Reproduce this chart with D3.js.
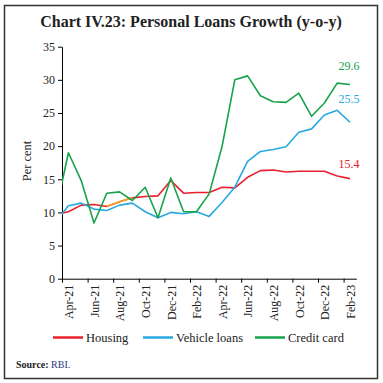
<!DOCTYPE html>
<html><head><meta charset="utf-8">
<script src="https://cdn.jsdelivr.net/npm/d3@7"></script>
<style>body{margin:0;background:#fff}svg{display:block}text{font-family:"Liberation Serif",serif}</style>
</head><body>
<svg id="c" width="383" height="383"></svg>
<script>
// Months: Mar-21 (lead-in point, clipped at axis) through Feb-23
const months = ["Mar-21","Apr-21","May-21","Jun-21","Jul-21","Aug-21","Sep-21","Oct-21","Nov-21","Dec-21",
  "Jan-22","Feb-22","Mar-22","Apr-22","May-22","Jun-22","Jul-22","Aug-22","Sep-22","Oct-22","Nov-22","Dec-22","Jan-23","Feb-23"];
const housing = [9.7,10.1,11.1,11.2,10.9,11.6,12.2,12.4,12.5,14.8,12.9,13.0,13.0,13.8,13.7,15.3,16.3,16.4,16.1,16.2,16.2,16.2,15.5,15.1];
const vehicle = [8.6,11.0,11.4,10.5,10.3,11.1,11.4,10.1,9.2,10.0,9.8,10.1,9.4,11.5,13.8,17.7,19.2,19.5,19.9,22.1,22.6,24.7,25.4,23.6];
const credit  = [10.0,19.0,14.8,8.4,12.9,13.1,11.8,13.8,9.2,15.2,10.1,10.1,12.8,19.9,30.0,30.6,27.6,26.7,26.6,28.0,24.5,26.5,29.5,29.3];
const highlightRange = ["Jul-21","Sep-21"]; // orange segment on housing line
const seriesNames = ["Housing","Vehicle loans","Credit card"];
const seriesColors = ["#e8202d","#27a9e1","#17a34a"];
const endLabels = ["15.4","25.5","29.6"];
const yTicks = [0,5,10,15,20,25,30,35];
const xLabels = ["Apr-21","Jun-21","Aug-21","Oct-21","Dec-21","Feb-22","Apr-22","Jun-22","Aug-22","Oct-22","Dec-22","Feb-23"];

(function(){
const svg = d3.select("#c");
const L = 62, R = 356.4, T = 46.7, B = 278.7;
const nCat = months.length - 1; // displayed categories (Apr-21..Feb-23)
const xi = d3.scaleLinear().domain([0, nCat]).range([L, R]);
const xm = m => xi(months.indexOf(m) - 0.5);
const y = d3.scaleLinear().domain([0, 35]).range([B, T]);

// border
svg.append("rect").attr("x",4.5).attr("y",5.5).attr("width",373).attr("height",373)
  .attr("fill","none").attr("stroke","#333").attr("stroke-width",1.5);

// title
svg.append("text").attr("x",191).attr("y",27).attr("text-anchor","middle")
  .attr("font-size",16).attr("font-weight","bold").attr("fill","#222")
  .text("Chart IV.23: Personal Loans Growth (y-o-y)");

// y axis
const ya = svg.append("g").attr("transform",`translate(${L},0)`)
  .call(d3.axisLeft(y).tickValues(yTicks).tickSize(4).tickSizeOuter(0).tickPadding(3));
ya.select(".domain").attr("stroke","#000");
ya.selectAll("text").attr("font-size",12).attr("fill","#222").style("font-family","Liberation Serif");
svg.append("text").attr("transform",`translate(31,161) rotate(-90)`)
  .attr("text-anchor","middle").attr("font-size",12.5).attr("fill","#222").text("Per cent");

// x axis ticks (between categories, every 2)
const xa = svg.append("g").attr("transform",`translate(0,${B})`)
  .call(d3.axisBottom(xi).tickValues(d3.range(0, nCat, 2)).tickSize(4).tickSizeOuter(0).tickFormat(""));
xa.select(".domain").attr("stroke","#000");
// x labels at category centres
const xl = svg.append("g").attr("transform",`translate(0,${B})`)
  .call(d3.axisBottom(xi).tickValues(xLabels.map(m => months.indexOf(m) - 0.5)).tickSize(0)
    .tickFormat((d,i) => xLabels[i]));
xl.select(".domain").remove();
xl.selectAll("text").attr("font-size",12).attr("fill","#222").style("font-family","Liberation Serif")
  .attr("transform","rotate(-90)").attr("text-anchor","end").attr("dy","0.35em").attr("x",-6).attr("y",0);

// clip
svg.append("clipPath").attr("id","clip").append("rect")
  .attr("x",L).attr("y",0).attr("width",R-L+10).attr("height",B);

const line = d3.line().x((d,i) => xm(months[i])).y(d => y(d));
const g = svg.append("g").attr("clip-path","url(#clip)");
const h0 = months.indexOf(highlightRange[0]), h1 = months.indexOf(highlightRange[1]);
const hl = d3.line().x(d => xm(months[d])).y(d => y(housing[d]));
[housing, vehicle, credit].forEach((s, k) => {
  g.append("path").attr("d", line(s)).attr("fill","none")
    .attr("stroke", seriesColors[k]).attr("stroke-width",1.6).attr("stroke-linejoin","round");
  if (k === 0) {
    g.append("path").attr("d", hl(d3.range(h0, h1 + 1))).attr("fill","none")
      .attr("stroke","#f6a71f").attr("stroke-width",1.6);
  }
});

// end labels
const lastIdx = months.length - 1;
[[0, -9],[1, -7],[2, -12]].forEach(([k,dy]) => {
  const v = +endLabels[k];
  svg.append("text").attr("x", xm(months[lastIdx]) - 1).attr("y", y(v) + dy)
    .attr("text-anchor","middle").attr("font-size",12).attr("fill",seriesColors[k]).text(endLabels[k]);
});

// legend
const legX = [53, 143, 255];
seriesNames.forEach((n,k) => {
  svg.append("line").attr("x1",legX[k]).attr("x2",legX[k]+30).attr("y1",337.5).attr("y2",337.5)
    .attr("stroke",seriesColors[k]).attr("stroke-width",2.5);
  svg.append("text").attr("x",legX[k]+33).attr("y",341.5).attr("font-size",12.5).attr("fill","#222").text(n);
});

// source
const src = svg.append("text").attr("x",16).attr("y",367.5).attr("font-size",10).attr("fill","#222");
src.append("tspan").attr("font-weight","bold").text("Source: ");
src.append("tspan").attr("fill","#1f3a7a").text("RBI.");
})();
</script>
</body></html>
